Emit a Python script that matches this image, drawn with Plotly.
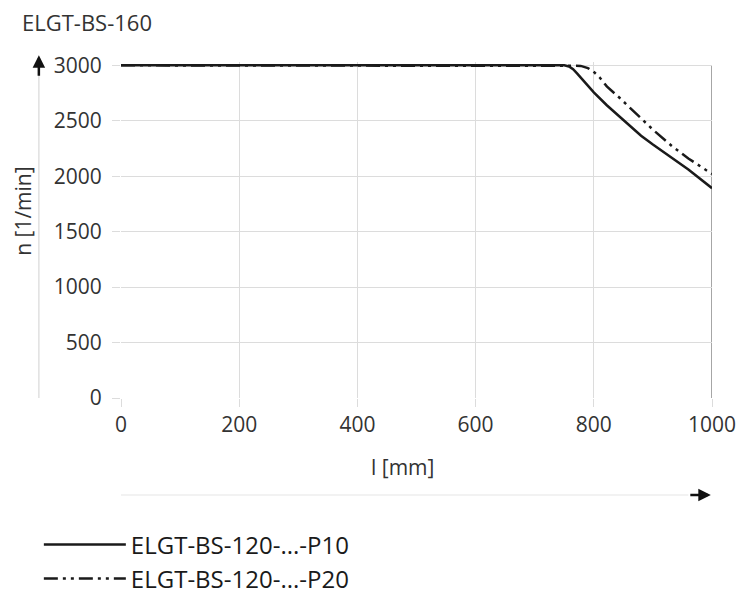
import plotly.graph_objects as go

# Speed characteristic
x_p10 = [0, 750, 758, 765, 772, 782, 800, 822, 840, 860, 880, 900, 930, 960, 1000]
n_p10 = [3000, 3000, 2990, 2965, 2925, 2865, 2757, 2640, 2554, 2460, 2365, 2285, 2170, 2060, 1892]

x_p20 = [0, 768, 778, 790, 799, 810, 822, 844, 866, 900, 933, 960, 1000]
n_p20 = [3000, 3000, 2995, 2975, 2946, 2890, 2810, 2705, 2590, 2420, 2268, 2160, 2020]

x_ticks = [0, 200, 400, 600, 800, 1000]
y_ticks = [0, 500, 1000, 1500, 2000, 2500, 3000]

FONT = "Open Sans"
TXT = "#333333"
GRID = "#dcdcdc"

fig = go.Figure()

fig.add_trace(go.Scatter(
    x=x_p10, y=n_p10, mode="lines", name="ELGT-BS-120-...-P10",
    line=dict(color="#1a1a1a", width=2.5),
))
fig.add_trace(go.Scatter(
    x=x_p20, y=n_p20, mode="lines", name="ELGT-BS-120-...-P20",
    line=dict(color="#1a1a1a", width=2.5, dash="14px,5px,3px,5px,3px,5px"),
))

# darker right edge at x=1000
fig.add_shape(type="line", xref="x", yref="y", x0=1000, x1=1000, y0=-80, y1=3000,
              line=dict(color="#888888", width=1.5), layer="below")

# axis arrows (light shaft, black head)
fig.add_shape(type="line", xref="paper", yref="paper", x0=-0.139, x1=-0.139, y0=0.0, y1=0.98,
              line=dict(color="#e0e0e0", width=1.5))
fig.add_annotation(xref="paper", yref="paper", x=-0.139, y=1.02, ax=0, ay=22, text="",
                   showarrow=True, arrowhead=2, arrowsize=1, arrowwidth=2.5, arrowcolor="#111111")
fig.add_shape(type="line", xref="paper", yref="paper", x0=0.0, x1=0.96, y0=-0.289, y1=-0.289,
              line=dict(color="#eeeeee", width=1.5))
fig.add_annotation(xref="paper", yref="paper", x=0.998, y=-0.289, ax=-22, ay=0, text="",
                   showarrow=True, arrowhead=2, arrowsize=1, arrowwidth=2.5, arrowcolor="#111111")

# texts
fig.add_annotation(xref="paper", yref="paper", x=-0.171, y=1.119, xanchor="left", yanchor="middle",
                   text="ELGT-BS-160", showarrow=False, font=dict(family=FONT, size=22, color=TXT))
fig.add_annotation(xref="paper", yref="paper", x=-0.167, y=0.555, textangle=-90,
                   xanchor="center", yanchor="middle",
                   text="n [1/min]", showarrow=False, font=dict(family=FONT, size=21, color=TXT))
fig.add_annotation(xref="paper", yref="paper", x=0.477, y=-0.206, xanchor="center", yanchor="middle",
                   text="l [mm]", showarrow=False, font=dict(family=FONT, size=21, color=TXT))

fig.update_xaxes(
    range=[0, 1000], tickvals=x_ticks, showgrid=True, gridcolor=GRID, gridwidth=1.2,
    zeroline=False, showline=False, ticks="outside", ticklen=8, tickcolor=GRID,
    tickfont=dict(family=FONT, size=21, color=TXT), ticklabelstandoff=0, automargin=False,
)
fig.update_yaxes(
    range=[0, 3030], tickvals=y_ticks, showgrid=True, gridcolor=GRID, gridwidth=1.2,
    zeroline=False, showline=False, ticks="outside", ticklen=8, tickcolor=GRID,
    tickfont=dict(family=FONT, size=21, color=TXT), ticklabelstandoff=6, automargin=False,
)

# page body adds an 8px margin, so the figure is 8px smaller than the window
fig.update_layout(
    width=738, height=587,
    margin=dict(l=113, r=34, t=54, b=197, autoexpand=False),
    paper_bgcolor="white", plot_bgcolor="white",
    font=dict(family=FONT, color=TXT),
    showlegend=True,
    legend=dict(
        x=-0.139, y=-0.37, xanchor="left", yanchor="top",
        font=dict(family=FONT, size=24, color="#1a1a1a"),
        itemwidth=82, tracegroupgap=0, bgcolor="rgba(0,0,0,0)",
    ),
)

fig.write_html("out.html")
